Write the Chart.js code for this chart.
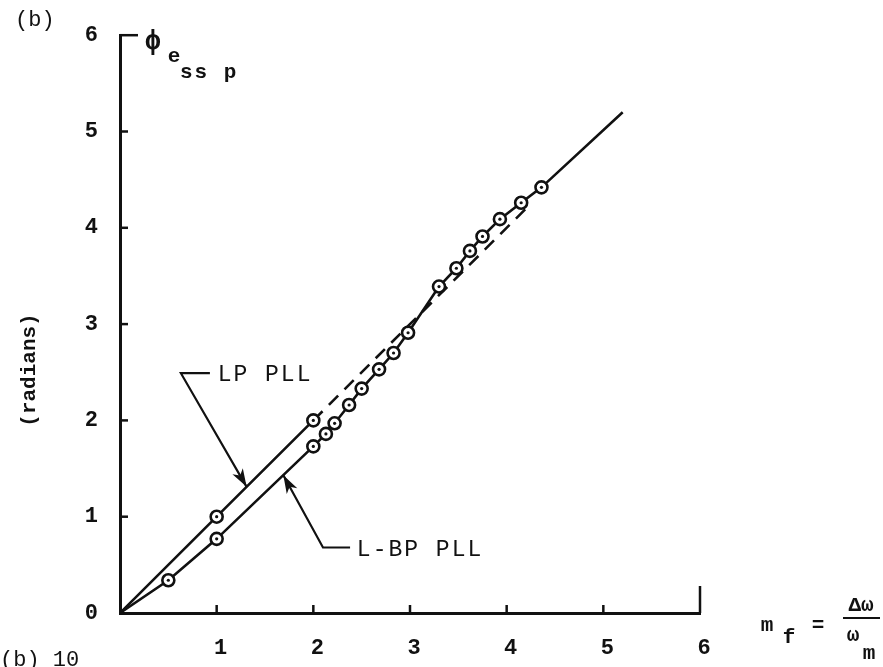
<!DOCTYPE html>
<html>
<head>
<meta charset="utf-8">
<script src="https://cdn.jsdelivr.net/npm/chart.js@4.4.1/dist/chart.umd.min.js"></script>
<style>
  body { margin: 0; background: #fff; }
  #wrap { width: 883px; height: 667px; }
</style>
</head>
<body>
<div id="wrap"><canvas id="myChart" width="883" height="667"></canvas></div>
<script>
// values
const xTicks = [0, 1, 2, 3, 4, 5, 6];
const yTicks = [0, 1, 2, 3, 4, 5, 6];

// LP PLL, solid part with markers
const lpX = [0, 1, 2];
const lpY = [0, 1.0, 2.0];
// LP PLL, dashed continuation
const lpDashX = [2, 4.2];
const lpDashY = [2, 4.2];
// L-BP PLL
const lbpX = [0, 0.5, 1, 2, 2.13, 2.22, 2.37, 2.5, 2.68, 2.83, 2.98, 3.3, 3.48, 3.62, 3.75, 3.93, 4.15, 4.36, 5.2];
const lbpY = [0, 0.34, 0.77, 1.73, 1.86, 1.97, 2.16, 2.33, 2.53, 2.70, 2.91, 3.39, 3.58, 3.76, 3.91, 4.09, 4.26, 4.42, 5.2];

const ink = "#111";
const mono = '"Liberation Mono", "DejaVu Sans Mono", monospace';

function toPoints(xs, ys) {
  return xs.map((x, i) => ({ x: x, y: ys[i] }));
}
// no marker on the origin or on the plain end of a line
function markerSizes(xs) {
  return xs.map((x, i) => (i === 0 || x > 5 ? 0 : 6));
}

// leader lines for the two labels (data units), tip last
const leaders = [
  { text: "LP PLL", path: [[0.93, 2.49], [0.63, 2.49], [1.31, 1.31]], textAt: [1.01, 2.47] },
  { text: "L-BP PLL", path: [[2.38, 0.68], [2.1, 0.68], [1.69, 1.43]], textAt: [2.45, 0.65] },
];

const decorPlugin = {
  id: "decor",
  afterDatasetsDraw(chart) {
    const ctx = chart.ctx;
    // centre dot in every marker
    ctx.save();
    ctx.fillStyle = ink;
    chart.data.datasets.forEach((ds, i) => {
      const meta = chart.getDatasetMeta(i);
      meta.data.forEach((pt, j) => {
        const r = Array.isArray(ds.pointRadius) ? ds.pointRadius[j] : ds.pointRadius;
        if (r > 0) {
          ctx.beginPath();
          ctx.arc(pt.x, pt.y, 1.6, 0, Math.PI * 2);
          ctx.fill();
        }
      });
    });
    ctx.restore();
  },
  afterDraw(chart) {
    const ctx = chart.ctx;
    const xs = chart.scales.x;
    const ys = chart.scales.y;
    const area = chart.chartArea;
    ctx.save();
    ctx.strokeStyle = ink;
    ctx.fillStyle = ink;
    ctx.lineCap = "butt";

    // inward tick marks
    ctx.lineWidth = 2.5;
    yTicks.forEach((v) => {
      if (v === 0) return;
      const py = ys.getPixelForValue(v);
      ctx.beginPath();
      ctx.moveTo(area.left, py);
      ctx.lineTo(area.left + (v === 6 ? 18 : 8), py);
      ctx.stroke();
    });
    xTicks.forEach((v) => {
      if (v === 0) return;
      const px = xs.getPixelForValue(v);
      ctx.beginPath();
      ctx.moveTo(px, area.bottom);
      ctx.lineTo(px, area.bottom - (v === 6 ? 27 : 8));
      ctx.stroke();
    });

    // leaders with arrows
    ctx.lineWidth = 2.2;
    leaders.forEach((l) => {
      const pts = l.path.map((p) => [xs.getPixelForValue(p[0]), ys.getPixelForValue(p[1])]);
      ctx.beginPath();
      ctx.moveTo(pts[0][0], pts[0][1]);
      pts.slice(1).forEach((p) => ctx.lineTo(p[0], p[1]));
      ctx.stroke();
      const tip = pts[pts.length - 1];
      const prev = pts[pts.length - 2];
      const a = Math.atan2(tip[1] - prev[1], tip[0] - prev[0]);
      ctx.beginPath();
      ctx.moveTo(tip[0], tip[1]);
      ctx.lineTo(tip[0] - 18 * Math.cos(a) + 6 * Math.sin(a), tip[1] - 18 * Math.sin(a) - 6 * Math.cos(a));
      ctx.lineTo(tip[0] - 13 * Math.cos(a), tip[1] - 13 * Math.sin(a));
      ctx.lineTo(tip[0] - 18 * Math.cos(a) - 6 * Math.sin(a), tip[1] - 18 * Math.sin(a) + 6 * Math.cos(a));
      ctx.closePath();
      ctx.fill();
      ctx.font = "23px " + mono;
      ctx.letterSpacing = "2px";
      ctx.textAlign = "left";
      ctx.textBaseline = "middle";
      ctx.fillText(l.text, xs.getPixelForValue(l.textAt[0]), ys.getPixelForValue(l.textAt[1]));
    });
    ctx.letterSpacing = "0px";

    // figure letter and the cut-off caption of the next panel
    ctx.textAlign = "left";
    ctx.textBaseline = "middle";
    ctx.font = "22px " + mono;
    ctx.fillText("(b)", 15, 20);
    ctx.fillText("(b) 10", 0, 660);

    // y quantity
    ctx.font = "bold 28px " + mono;
    ctx.textAlign = "center";
    ctx.fillText("\u03D5", 153, 42);
    ctx.font = "bold 21px " + mono;
    ctx.fillText("e", 174, 57);
    ctx.textAlign = "left";
    ctx.letterSpacing = "2px";
    ctx.fillText("ss p", 180, 73);
    ctx.letterSpacing = "0px";

    // y units
    ctx.save();
    ctx.translate(30, 370);
    ctx.rotate(-Math.PI / 2);
    ctx.textAlign = "center";
    ctx.font = "bold 21px " + mono;
    ctx.fillText("(radians)", 0, 0);
    ctx.restore();

    // x quantity m_f = Δω / ω_m
    ctx.textAlign = "center";
    ctx.font = "bold 21px " + mono;
    ctx.fillText("m", 767, 626);
    ctx.fillText("f", 789, 638);
    ctx.fillText("=", 818, 626);
    ctx.fillText("\u0394\u03C9", 861, 606);
    ctx.fillText("\u03C9", 853, 636);
    ctx.fillText("m", 869, 654);
    ctx.lineWidth = 2;
    ctx.beginPath();
    ctx.moveTo(843, 618);
    ctx.lineTo(880, 618);
    ctx.stroke();
    ctx.restore();
  },
};

const ctx = document.getElementById("myChart");
new Chart(ctx, {
  type: "scatter",
  data: {
    datasets: [
      {
        label: "LP PLL",
        data: toPoints(lpX, lpY),
        showLine: true,
        borderColor: ink,
        borderWidth: 2.6,
        pointRadius: markerSizes(lpX),
        pointBorderWidth: 2.6,
        pointBorderColor: ink,
        pointBackgroundColor: "#fff",
      },
      {
        label: "LP PLL (dashed)",
        data: toPoints(lpDashX, lpDashY),
        showLine: true,
        borderColor: ink,
        borderWidth: 2.6,
        borderDash: [13, 9],
        pointRadius: 0,
      },
      {
        label: "L-BP PLL",
        data: toPoints(lbpX, lbpY),
        showLine: true,
        borderColor: ink,
        borderWidth: 2.6,
        pointRadius: markerSizes(lbpX),
        pointBorderWidth: 2.6,
        pointBorderColor: ink,
        pointBackgroundColor: "#fff",
      },
    ],
  },
  options: {
    responsive: false,
    animation: false,
    layout: { padding: { top: 35, right: 183, left: 0, bottom: 0 } },
    plugins: {
      legend: { display: false },
      tooltip: { enabled: false },
    },
    scales: {
      x: {
        type: "linear",
        min: 0,
        max: 6,
        afterFit: (scale) => { scale.height = 54; },
        afterBuildTicks: (scale) => { scale.ticks = xTicks.map((v) => ({ value: v })); },
        grid: { display: false, drawTicks: false },
        border: { display: true, color: ink, width: 3 },
        ticks: {
          padding: 22,
          labelOffset: 4,
          color: ink,
          font: { family: mono, size: 22, weight: "bold" },
          callback: (v) => (v === 0 ? "" : String(v)),
        },
      },
      y: {
        type: "linear",
        min: 0,
        max: 6,
        afterFit: (scale) => { scale.width = 120; },
        afterBuildTicks: (scale) => { scale.ticks = yTicks.map((v) => ({ value: v })); },
        grid: { display: false, drawTicks: false },
        border: { display: true, color: ink, width: 3 },
        ticks: {
          padding: 22,
          color: ink,
          font: { family: mono, size: 22, weight: "bold" },
          callback: (v) => String(v),
        },
      },
    },
  },
  plugins: [decorPlugin],
});
</script>
</body>
</html>
